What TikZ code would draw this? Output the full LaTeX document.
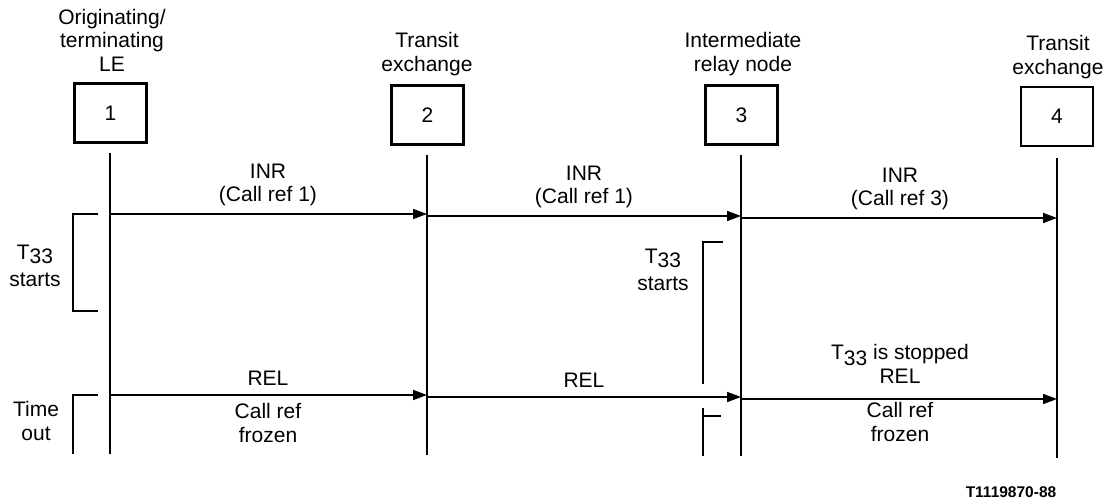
\documentclass[tikz,border=0pt]{standalone}
\usepackage{fontspec}
\setmainfont{Liberation Sans}
\usetikzlibrary{arrows.meta}
\newcommand{\Tsub}{T\raisebox{-6pt}{33}}
\newcommand{\Tup}{\raisebox{4pt}{T}33}
\begin{document}
\begin{tikzpicture}[x=1pt,y=-1pt,
  lbl/.style={font=\fontsize{21}{23.5}\selectfont, align=center, inner sep=0pt},
  tmr/.style={font=\fontsize{21}{23.5}\selectfont, align=center, inner sep=0pt},
  ent/.style={draw, line width=2.4pt, minimum width=72pt, minimum height=59pt, inner sep=0pt, font=\fontsize{21}{24}\selectfont},
  life/.style={line width=1.7pt},
  msg/.style={line width=1.7pt, -{Triangle[length=14pt,width=10pt]}},
  brk/.style={line width=1.4pt},
  foot/.style={font=\fontsize{15.5}{18}\selectfont\bfseries, inner sep=0pt}
]
\useasboundingbox (0,0) rectangle (1112,502);

% headers
\node[lbl] (h1) at (112,40) {Originating/\\terminating\\LE};
\node[lbl] (h2) at (427,54) {Transit\\exchange};
\node[lbl] (h3) at (743,54) {Intermediate\\relay node};
\node[lbl] (h4) at (1058,57) {Transit\\exchange};

% boxes
\node[ent] (b1) at (110.5,113) {1};
\node[ent] (b2) at (427.5,115) {2};
\node[ent] (b3) at (741.5,115) {3};
\node[ent] (b4) at (1057,116.5) {4};

% lifelines
\coordinate (t1) at (110,153);  \coordinate (e1) at (110,454);
\coordinate (t2) at (427,155);  \coordinate (e2) at (427,455);
\coordinate (t3) at (741,155);  \coordinate (e3) at (741,456);
\coordinate (t4) at (1057,158); \coordinate (e4) at (1057,458);
\draw[life] (t1) -- (e1);
\draw[life] (t2) -- (e2);
\draw[life] (t3) -- (e3);
\draw[life] (t4) -- (e4);

% INR messages
\coordinate (i1) at (110,214);  \coordinate (i2) at (427,214);
\coordinate (i2b) at (427,216); \coordinate (i3) at (741,216);
\coordinate (i3b) at (741,218); \coordinate (i4) at (1057,218);
\draw[msg] (i1) -- (i2);
\draw[msg] (i2b) -- (i3);
\draw[msg] (i3b) -- (i4);
\node[lbl] (m12) at (268,185) {INR\\(Call ref 1)};
\node[lbl] (m23) at (584,187) {INR\\(Call ref 1)};
\node[lbl] (m34) at (900,189) {INR\\(Call ref 3)};

% REL messages
\coordinate (r1) at (110,395);  \coordinate (r2) at (427,395);
\coordinate (r2b) at (427,397); \coordinate (r3) at (741,397);
\coordinate (r3b) at (741,399); \coordinate (r4) at (1057,399);
\draw[msg] (r1) -- (r2);
\draw[msg] (r2b) -- (r3);
\draw[msg] (r3b) -- (r4);
\node[lbl] (l12) at (268,378) {REL};
\node[lbl] (l23) at (584,380) {REL};
\node[lbl] (l34) at (900,364) {\Tsub{} is stopped\\REL};
\node[lbl] (f12) at (268,423) {Call ref\\frozen};
\node[lbl] (f34) at (900,422) {Call ref\\frozen};

% brackets and timer labels
\draw[brk] (98,214) -- (73,214) -- (73,311) -- (98,311);
\node[tmr] (ts1) at (35,266) {\Tup\\starts};
\draw[brk] (98,395) -- (73,395) -- (73,454);
\node[lbl] (to1) at (36,421) {Time\\out};
\draw[brk] (723,242) -- (703,242) -- (703,384);
\node[tmr] (ts3) at (663,270) {\Tup\\starts};
\draw[brk] (703,408) -- (703,456);
\draw[brk] (703,416) -- (721,416);

% footer
\node[foot] (ft) at (1011,492) {T1119870-88};
\end{tikzpicture}
\end{document}
